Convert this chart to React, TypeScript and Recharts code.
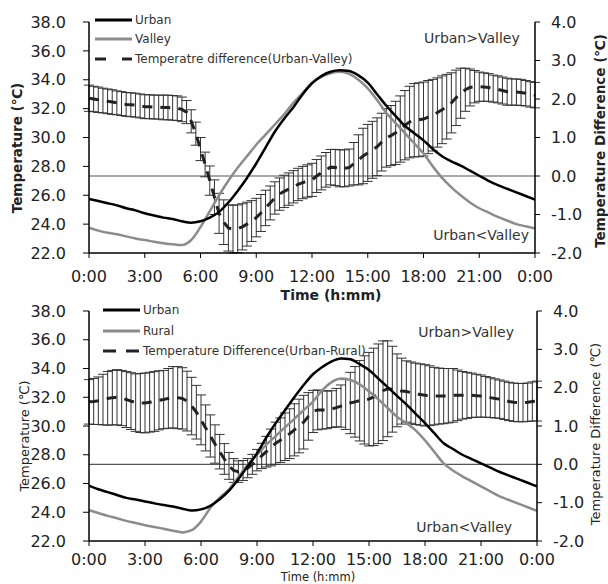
import React from 'react';
import {
  ComposedChart,
  Line,
  XAxis,
  YAxis,
  ErrorBar,
  ReferenceLine,
  ReferenceDot,
  Legend,
} from 'recharts';

const FONT = '"DejaVu Sans", Verdana, sans-serif';

const TIME_TICKS = [0, 3, 6, 9, 12, 15, 18, 21, 24];
const TIME_LABELS = ['0:00', '3:00', '6:00', '9:00', '12:00', '15:00', '18:00', '21:00', '0:00'];
const TEMP_TICKS = [22, 24, 26, 28, 30, 32, 34, 36, 38];
const DIFF_TICKS = [-2, -1, 0, 1, 2, 3, 4];

// time stamps (hours) of the half-hourly temperatures and quarter-hourly differences
const HALF_HOURS = Array.from({ length: 49 }, (_, i) => i / 2);
const QUARTER_HOURS = Array.from({ length: 97 }, (_, i) => i / 4);

// top panel: urban vs valley
const TOP_URBAN = [
  25.75, 25.6, 25.45, 25.3, 25.1, 24.95, 24.75, 24.6, 24.45, 24.35, 24.2, 24.1,
  24.2, 24.45, 24.85, 25.5, 26.3, 27.2, 28.2, 29.3, 30.4, 31.3, 32.1, 33.0,
  33.75, 34.25, 34.55, 34.65, 34.6, 34.3, 33.8, 33.0, 32.2, 31.5, 30.8, 30.3,
  29.8, 29.2, 28.7, 28.35, 28.05, 27.7, 27.35, 27.0, 26.7, 26.45, 26.2, 25.95,
  25.7,
];
const TOP_VALLEY = [
  23.75, 23.55, 23.4, 23.3, 23.15, 23.0, 22.9, 22.78, 22.68, 22.6, 22.55, 22.9,
  23.8, 24.9, 26.0, 27.0, 27.9, 28.7, 29.5, 30.2, 30.9, 31.6, 32.4, 33.1,
  33.8, 34.2, 34.45, 34.55, 34.4, 34.0, 33.4, 32.6, 31.7, 31.0, 30.3, 29.6,
  28.9, 28.0, 27.2, 26.55, 26.0, 25.5, 25.1, 24.8, 24.5, 24.25, 24.0, 23.85,
  23.7,
];
const TOP_DIFF = [
  2.02, 2.0, 1.98, 1.96, 1.94, 1.92, 1.9, 1.88, 1.86, 1.85, 1.84, 1.82,
  1.8, 1.8, 1.79, 1.79, 1.78, 1.78, 1.77, 1.76, 1.73, 1.66, 1.42, 1.1,
  0.7, 0.3, -0.12, -0.55, -0.97, -1.2, -1.35, -1.38, -1.37, -1.32, -1.25, -1.17,
  -1.08, -0.96, -0.83, -0.7, -0.57, -0.47, -0.4, -0.34, -0.28, -0.22, -0.17, -0.13,
  -0.1, 0.0, 0.08, 0.16, 0.23, 0.22, 0.2, 0.2, 0.22, 0.32, 0.42, 0.52,
  0.6, 0.68, 0.76, 0.88, 0.99, 1.05, 1.12, 1.22, 1.32, 1.4, 1.45, 1.46,
  1.48, 1.53, 1.58, 1.65, 1.72, 1.8, 1.9, 2.03, 2.15, 2.24, 2.3, 2.32,
  2.32, 2.31, 2.3, 2.27, 2.25, 2.22, 2.19, 2.18, 2.18, 2.17, 2.15, 2.12,
  2.1,
];
const TOP_DIFF_SD = [
  0.34, 0.33, 0.33, 0.32, 0.32, 0.32, 0.31, 0.31, 0.31, 0.31, 0.31, 0.31,
  0.31, 0.31, 0.31, 0.31, 0.32, 0.32, 0.32, 0.32, 0.32, 0.3, 0.3, 0.3,
  0.3, 0.32, 0.38, 0.45, 0.52, 0.58, 0.6, 0.62, 0.62, 0.6, 0.57, 0.53,
  0.5, 0.48, 0.46, 0.44, 0.42, 0.42, 0.42, 0.42, 0.42, 0.42, 0.42, 0.42,
  0.43, 0.43, 0.44, 0.45, 0.46, 0.47, 0.48, 0.48, 0.48, 0.55, 0.65, 0.72,
  0.74, 0.74, 0.75, 0.75, 0.76, 0.78, 0.82, 0.86, 0.9, 0.93, 0.95, 0.96,
  0.96, 0.95, 0.93, 0.9, 0.88, 0.84, 0.78, 0.72, 0.65, 0.56, 0.48, 0.42,
  0.38, 0.37, 0.36, 0.35, 0.35, 0.35, 0.35, 0.34, 0.34, 0.34, 0.33, 0.33,
  0.33,
];

// bottom panel: urban vs rural
const BOTTOM_URBAN = [
  25.85, 25.6, 25.4, 25.2, 25.0, 24.88, 24.75, 24.62, 24.5, 24.4, 24.25, 24.12,
  24.2, 24.45, 24.9, 25.5, 26.3, 27.2, 28.1, 29.2, 30.2, 31.1, 32.0, 32.85,
  33.6, 34.1, 34.5, 34.7, 34.65, 34.3, 33.9, 33.3, 32.7, 32.1, 31.5, 30.85,
  30.2, 29.5, 28.8, 28.4, 28.0, 27.7, 27.4, 27.1, 26.8, 26.55, 26.3, 26.05,
  25.8,
];
const BOTTOM_RURAL = [
  24.15, 23.95, 23.75, 23.58, 23.4, 23.25, 23.1, 22.98, 22.85, 22.72, 22.6, 22.75,
  23.35, 24.3, 25.0, 25.6, 26.45, 27.3, 28.0, 28.7, 29.3, 29.9, 30.5, 31.1,
  31.7, 32.5, 33.05, 33.3, 33.2, 32.9, 32.4, 31.85, 31.25, 30.65, 30.2, 29.7,
  29.0, 28.2, 27.4, 26.9, 26.5, 26.15, 25.8, 25.45, 25.1, 24.85, 24.6, 24.35,
  24.1,
];
const BOTTOM_DIFF = [
  1.63, 1.64, 1.66, 1.69, 1.72, 1.74, 1.75, 1.73, 1.69, 1.65, 1.61, 1.6,
  1.6, 1.62, 1.64, 1.67, 1.69, 1.72, 1.75, 1.74, 1.72, 1.65, 1.52, 1.36,
  1.16, 0.95, 0.74, 0.53, 0.33, 0.14, -0.04, -0.16, -0.19, -0.16, -0.1, 0.0,
  0.11, 0.22, 0.33, 0.44, 0.55, 0.63, 0.72, 0.8, 0.9, 1.0, 1.1, 1.25,
  1.38, 1.42, 1.42, 1.42, 1.44, 1.48, 1.52, 1.56, 1.6, 1.63, 1.66, 1.68,
  1.7, 1.76, 1.84, 1.92, 1.97, 1.96, 1.93, 1.91, 1.9, 1.87, 1.84, 1.82,
  1.8, 1.79, 1.78, 1.78, 1.78, 1.79, 1.8, 1.8, 1.8, 1.8, 1.8, 1.79,
  1.78, 1.76, 1.74, 1.72, 1.7, 1.67, 1.64, 1.62, 1.61, 1.61, 1.62, 1.64,
  1.65,
];
const BOTTOM_DIFF_SD = [
  0.58, 0.6, 0.62, 0.66, 0.7, 0.71, 0.72, 0.72, 0.73, 0.74, 0.75, 0.77,
  0.78, 0.78, 0.78, 0.77, 0.76, 0.78, 0.8, 0.81, 0.8, 0.78, 0.75, 0.7,
  0.65, 0.6, 0.55, 0.5, 0.45, 0.4, 0.35, 0.31, 0.28, 0.26, 0.25, 0.26,
  0.28, 0.33, 0.4, 0.48, 0.55, 0.58, 0.62, 0.65, 0.68, 0.7, 0.7, 0.62,
  0.55, 0.52, 0.5, 0.49, 0.48, 0.5, 0.55, 0.65, 0.8, 0.92, 1.05, 1.15,
  1.22, 1.27, 1.3, 1.3, 1.25, 1.12, 0.95, 0.86, 0.8, 0.8, 0.8, 0.8,
  0.8, 0.78, 0.75, 0.73, 0.72, 0.71, 0.7, 0.66, 0.62, 0.6, 0.58, 0.56,
  0.55, 0.53, 0.52, 0.51, 0.5, 0.5, 0.5, 0.5, 0.5, 0.5, 0.5, 0.51,
  0.52,
];

const PANELS = [
  {
    y: 0, height: 304, top: 22, xAxisHeight: 51, rightWidth: 73, xTickMargin: 13,
    urban: TOP_URBAN, other: TOP_VALLEY, diff: TOP_DIFF, sd: TOP_DIFF_SD,
    legend: ['Urban', 'Valley', 'Temperatre difference(Urban-Valley)'],
    legendBox: { left: 95, top: 10, row: 19.5, dash: '11 16' },
    bold: true, titleSize: 13.5, xTitleSize: 14,
    xTitle: { x: 331, y: 300 }, leftTitle: { x: 17, y: 148 }, rightTitle: { x: 600, y: 141 },
    above: { h: 20.6, d: 3.58 }, below: { h: 21.1, d: -1.53 },
  },
  {
    y: 296, height: 288, top: 15, xAxisHeight: 43, rightWidth: 71, xTickMargin: 8,
    urban: BOTTOM_URBAN, other: BOTTOM_RURAL, diff: BOTTOM_DIFF, sd: BOTTOM_DIFF_SD,
    legend: ['Urban', 'Rural', 'Temperature Difference(Urban-Rural)'],
    legendBox: { left: 103, top: 4, row: 20.5, dash: '13 10' },
    bold: false, titleSize: 13, xTitleSize: 11.5,
    xTitle: { x: 318, y: 284.5 }, leftTitle: { x: 24, y: 140 }, rightTitle: { x: 595, y: 138 },
    above: { h: 20.2, d: 3.45 }, below: { h: 20.1, d: -1.64 },
  },
];

function LegendBox({ labels, box }) {
  const styles = [
    { color: '#000', dash: undefined },
    { color: '#8c8c8c', dash: undefined },
    { color: '#222', dash: box.dash },
  ];
  return (
    <div style={{ fontFamily: FONT, fontSize: 12, color: '#333' }}>
      {labels.map((label, i) => (
        <div key={label} style={{ display: 'flex', alignItems: 'center', height: box.row }}>
          <svg width={37} height={6} style={{ marginRight: 3 }}>
            <line x1={0} x2={37} y1={3} y2={3} stroke={styles[i].color} strokeWidth={3} strokeDasharray={styles[i].dash} />
          </svg>
          <span style={{ whiteSpace: 'nowrap' }}>{label}</span>
        </div>
      ))}
    </div>
  );
}

function rotated(text: string, pos: { x: number; y: number }, size: number, bold: boolean) {
  return (
    <text
      x={pos.x}
      y={pos.y}
      transform={`rotate(-90 ${pos.x} ${pos.y})`}
      textAnchor="middle"
      dominantBaseline="central"
      fontSize={size}
      fontWeight={bold ? 'bold' : 'normal'}
      fill="#222"
      fontFamily={FONT}
    >
      {text}
    </text>
  );
}

function Panel({ cfg }) {
  const urbanRows = cfg.urban.map((t, i) => ({ h: HALF_HOURS[i], t }));
  const otherRows = cfg.other.map((t, i) => ({ h: HALF_HOURS[i], t }));
  const diffRows = cfg.diff.map((d, i) => ({ h: QUARTER_HOURS[i], d, e: cfg.sd[i] }));
  const axisLine = { stroke: '#000', strokeWidth: 1.5 };
  const tick = { fill: '#222', fontSize: 16, fontFamily: FONT };
  const annot = { position: 'center' as const, fill: '#333', fontSize: 14, fontFamily: FONT };

  return (
    <ComposedChart width={608} height={cfg.height} margin={{ top: cfg.top, right: 0, bottom: 0, left: 0 }}>
      <XAxis
        dataKey="h"
        type="number"
        domain={[0, 24]}
        ticks={TIME_TICKS}
        interval={0}
        allowDataOverflow
        tickFormatter={(h: number) => TIME_LABELS[TIME_TICKS.indexOf(h)]}
        height={cfg.xAxisHeight}
        tickSize={5}
        tickMargin={cfg.xTickMargin}
        axisLine={axisLine}
        tickLine={{ stroke: '#000' }}
        tick={tick}
        label={{
          content: () => (
            <text x={cfg.xTitle.x} y={cfg.xTitle.y} textAnchor="middle" fontSize={cfg.xTitleSize}
              fontWeight={cfg.bold ? 'bold' : 'normal'} fill="#222" fontFamily={FONT}>
              Time (h:mm)
            </text>
          ),
        }}
      />
      <YAxis
        yAxisId="left"
        domain={[22, 38]}
        ticks={TEMP_TICKS}
        interval={0}
        allowDataOverflow
        tickFormatter={(v: number) => v.toFixed(1)}
        width={89}
        tickSize={6}
        tickMargin={17}
        axisLine={axisLine}
        tickLine={{ stroke: '#000' }}
        tick={tick}
        label={{ content: () => rotated('Temperature (℃)', cfg.leftTitle, cfg.titleSize, cfg.bold) }}
      />
      <YAxis
        yAxisId="right"
        orientation="right"
        domain={[-2, 4]}
        ticks={DIFF_TICKS}
        interval={0}
        allowDataOverflow
        tickFormatter={(v: number) => v.toFixed(1)}
        width={cfg.rightWidth}
        tickSize={5}
        tickMargin={11}
        axisLine={axisLine}
        tickLine={{ stroke: '#000' }}
        tick={tick}
        label={{ content: () => rotated('Temperature Difference (℃)', cfg.rightTitle, cfg.titleSize, cfg.bold) }}
      />
      <ReferenceLine yAxisId="right" y={0} stroke="#555" strokeWidth={1.2} />
      <Line
        yAxisId="right"
        data={diffRows}
        dataKey="d"
        type="linear"
        stroke="#222"
        strokeWidth={3}
        strokeDasharray="10 8"
        dot={false}
        isAnimationActive={false}
      >
        <ErrorBar dataKey="e" direction="y" width={5} stroke="#333" strokeWidth={1} isAnimationActive={false} />
      </Line>
      <Line yAxisId="left" data={otherRows} dataKey="t" type="monotone" stroke="#8c8c8c" strokeWidth={2.5} dot={false} isAnimationActive={false} />
      <Line yAxisId="left" data={urbanRows} dataKey="t" type="monotone" stroke="#000" strokeWidth={2.5} dot={false} isAnimationActive={false} />
      <ReferenceDot yAxisId="right" x={cfg.above.h} y={cfg.above.d} r={0} fill="none" stroke="none" label={{ value: 'Urban>Valley', ...annot }} />
      <ReferenceDot yAxisId="right" x={cfg.below.h} y={cfg.below.d} r={0} fill="none" stroke="none" label={{ value: 'Urban<Valley', ...annot }} />
      <Legend
        layout="vertical"
        align="center"
        verticalAlign="middle"
        wrapperStyle={{ left: cfg.legendBox.left, top: cfg.legendBox.top, width: 'auto', height: 'auto' }}
        content={() => <LegendBox labels={cfg.legend} box={cfg.legendBox} />}
      />
    </ComposedChart>
  );
}

export default function App() {
  return (
    <div style={{ position: 'absolute', left: 0, top: 0, width: 608, height: 584, fontFamily: FONT, background: '#fff' }}>
      {PANELS.map((cfg) => (
        <div key={cfg.y} style={{ position: 'absolute', left: 0, top: cfg.y }}>
          <Panel cfg={cfg} />
        </div>
      ))}
    </div>
  );
}
